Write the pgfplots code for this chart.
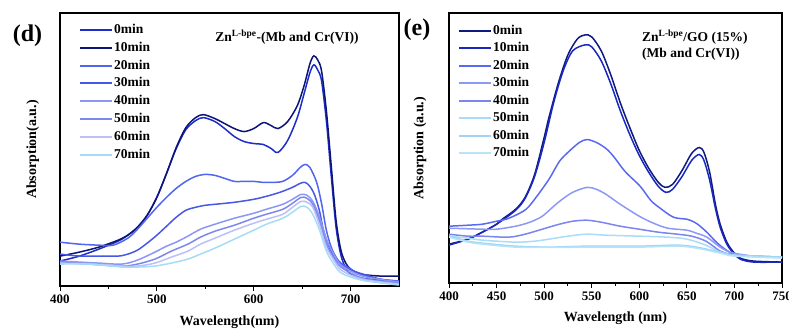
\documentclass[border=0pt]{standalone}
\usepackage{pgfplots}
\pgfplotsset{compat=1.18}
\usepackage{fontspec}
\setmainfont{Liberation Serif}
\definecolor{Lzero}{HTML}{1E2DC8}
\definecolor{Lten}{HTML}{0C1478}
\definecolor{Ltwenty}{HTML}{5165F0}
\definecolor{Lthirty}{HTML}{4558E6}
\definecolor{Lforty}{HTML}{8C96F4}
\definecolor{Lfifty}{HTML}{7D87EE}
\definecolor{Lsixty}{HTML}{BAC0F8}
\definecolor{Lseventy}{HTML}{A6DCF6}
\definecolor{Rzero}{HTML}{0E1A80}
\definecolor{Rten}{HTML}{1A28C0}
\definecolor{Rtwenty}{HTML}{5A6AF0}
\definecolor{Rthirty}{HTML}{8C98F6}
\definecolor{Rforty}{HTML}{7C84F0}
\definecolor{Rfifty}{HTML}{A8DCF8}
\definecolor{Rsixty}{HTML}{A0D4F6}
\definecolor{Rseventy}{HTML}{B8E4F8}
\pgfplotsset{
  common/.style={
    scale only axis,
    axis line style={line width=1.2pt, black},
    every tick/.style={black, line width=0.9pt},
    tick align=outside,
    major tick length=5pt,
    minor tick length=3pt,
    xtick pos=lower,
    ytick=\empty,
    xmin=400, xmax=750,
    /pgf/number format/assume math mode=true,
    xticklabel style={font=\bfseries\fontsize{13}{13}\selectfont, /pgf/number format/1000 sep={}},
    label style={font=\bfseries\fontsize{14}{14}\selectfont},
    legend cell align=left,
    legend image code/.code={\draw[#1, line width=2pt] (0pt,0pt) -- (32pt,0pt);},
    every axis plot/.append style={line width=1.5pt, smooth, tension=0.5, no markers},
  }
}
\begin{document}
\begin{tikzpicture}[x=1pt,y=1pt]
\useasboundingbox (0,0) rectangle (789,331);
% ---------- panel (d) ----------
\begin{axis}[common,
  at={(60pt,45pt)}, anchor=south west,
  width=339pt, height=273pt,
  ymin=-1, ymax=273,
  xtick={400,500,600,700}, minor x tick num=1,
  xlabel={Wavelength(nm)},
  ylabel={Absorption(a.u.)},
  xlabel style={at={(axis description cs:0.5,0)}, anchor=center, yshift=-36pt},
  ylabel style={at={(axis description cs:-0.08,0.5)}, anchor=center},
  legend style={at={(axis description cs:0.056,0.967)}, anchor=north west, draw=none, fill=none, inner sep=0pt,
    font=\bfseries\fontsize{13.5}{13.5}\selectfont, row sep=2.9pt,
    nodes={inner sep=1pt, text height=10pt, text depth=3pt}},
]
\addplot[Lzero] coordinates {(400,24)(420,29)(440,36)(460,44)(470,50)(480,58)(490,70)(500,88)(510,112)(520,137)(530,156)(540,165)(548,168)(560,164)(570,157)(580,149)(590,144)(600,142)(610,141)(618,137)(625,133)(635,145)(645,168)(652,192)(658,213)(662,221)(666,216)(670,205)(675,165)(680,110)(685,58)(690,30)(695,17)(700,11)(710,7)(730,5)(750,4)};
\addlegendentry{0min}
\addplot[Lten] coordinates {(400,29)(420,33)(440,38)(460,45)(470,50)(480,58)(490,70)(500,88)(510,112)(520,138)(530,158)(540,168)(548,171)(560,167)(570,162)(580,157)(590,154)(600,157)(610,163)(618,160)(625,157)(635,164)(645,180)(652,200)(658,222)(662,230)(666,226)(670,215)(675,175)(680,120)(685,65)(690,35)(695,22)(700,16)(710,11)(730,9)(750,9)};
\addlegendentry{10min}
\addplot[Ltwenty] coordinates {(400,43)(420,41)(440,40)(455,40)(470,47)(480,56)(490,67)(500,78)(510,88)(520,97)(530,104)(540,109)(550,111)(560,110)(570,107)(580,104)(590,104)(600,104)(610,103)(620,103)(630,104)(640,110)(648,118)(653,121)(658,118)(665,103)(670,82)(675,55)(680,38)(685,28)(690,22)(700,16)(710,11)(730,6)(750,4)};
\addlegendentry{20min}
\addplot[Lthirty] coordinates {(400,31)(420,29)(440,29)(460,29)(470,31)(480,35)(490,42)(500,50)(510,59)(520,68)(530,75)(540,78)(550,80)(560,81)(580,83)(600,86)(613,89)(627,93)(640,98)(648,102)(653,103)(658,99)(663,90)(668,74)(672,55)(678,38)(685,26)(695,17)(706,13)(730,6)(750,3)};
\addlegendentry{30min}
\addplot[Lforty] coordinates {(400,24)(420,23)(440,22)(464,21)(480,25)(498,33)(510,39)(520,43)(532,49)(545,56)(560,61)(580,67)(600,72)(613,76)(630,81)(640,86)(649,91)(655,90)(661,84)(668,68)(675,46)(682,32)(689,21)(700,14)(716,8)(750,3)};
\addlegendentry{40min}
\addplot[Lfifty] coordinates {(400,23)(430,21)(464,19)(480,21)(498,26)(515,34)(532,41)(545,48)(560,54)(580,60)(600,67)(613,71)(630,76)(640,82)(649,88)(655,87)(661,81)(668,64)(675,41)(682,28)(689,19)(700,12)(716,6)(750,2)};
\addlegendentry{50min}
\addplot[Lsixty] coordinates {(400,22)(430,21)(464,19)(480,19)(498,22)(515,28)(532,34)(545,41)(560,47)(580,55)(600,62)(613,66)(630,71)(640,78)(649,84)(655,83)(661,78)(668,60)(675,38)(682,26)(689,16)(700,10)(716,5)(750,1)};
\addlegendentry{60min}
\addplot[Lseventy] coordinates {(400,21)(430,21)(464,18)(480,18)(498,19)(515,22)(532,26)(545,31)(560,37)(580,46)(600,55)(613,61)(630,67)(640,73)(649,79)(655,78)(661,71)(668,55)(675,34)(682,22)(689,13)(700,8)(716,4)(750,0)};
\addlegendentry{70min}
\end{axis}
\node[font=\bfseries\fontsize{13.5}{13.5}\selectfont] at (287,294) {Zn\textsuperscript{L-bpe}-(Mb and Cr(VI))};
\node[font=\bfseries\fontsize{24}{24}\selectfont] at (27.5,295) {(d)};
% ---------- panel (e) ----------
\begin{axis}[common,
  at={(449pt,48pt)}, anchor=south west,
  width=333pt, height=270pt,
  ymin=-1, ymax=270,
  xtick={400,450,...,750}, minor x tick num=1,
  xlabel={Wavelength (nm)},
  ylabel={Absorption (a.u.)},
  xlabel style={at={(axis description cs:0.5,0)}, anchor=center, yshift=-35pt},
  ylabel style={at={(axis description cs:-0.087,0.5)}, anchor=center},
  legend style={at={(axis description cs:0.027,0.962)}, anchor=north west, draw=none, fill=none, inner sep=0pt,
    font=\bfseries\fontsize{13.5}{13.5}\selectfont, row sep=2.5pt,
    nodes={inner sep=1pt, text height=10pt, text depth=3pt}},
]
\addplot[Rzero] coordinates {(400,38)(420,43)(435,50)(450,58)(456,63)(470,73)(480,85)(490,108)(500,145)(505,165)(515,200)(525,228)(535,244)(543,248)(550,246)(560,232)(570,208)(580,180)(590,155)(600,132)(610,114)(620,100)(627,95)(635,98)(645,112)(655,129)(663,135)(668,130)(674,110)(680,78)(685,58)(692,40)(699,30)(706,24)(720,21)(750,20)};
\addlegendentry{0min}
\addplot[Rten] coordinates {(400,37)(420,43)(435,50)(450,58)(470,72)(480,84)(490,106)(500,140)(510,180)(520,212)(530,232)(543,238)(550,236)(560,222)(570,199)(580,172)(590,148)(600,127)(610,110)(620,96)(628,90)(635,93)(645,106)(655,122)(663,128)(668,122)(674,102)(680,74)(685,55)(692,38)(699,29)(706,23)(720,20)(750,20)};
\addlegendentry{10min}
\addplot[Rtwenty] coordinates {(400,56)(420,57)(435,58)(450,61)(460,63)(470,67)(481,73)(490,83)(505,103)(516,121)(526,131)(537,140)(545,143)(555,140)(565,134)(573,126)(585,111)(601,96)(612,82)(622,74)(636,65)(650,63)(658,60)(664,56)(672,49)(681,40)(690,33)(700,28)(720,26)(750,25)};
\addlegendentry{20min}
\addplot[Rthirty] coordinates {(400,54)(435,53)(450,53)(470,56)(485,60)(498,66)(510,76)(519,83)(530,90)(545,95)(555,93)(565,88)(580,78)(600,66)(615,59)(630,54)(650,52)(660,49)(671,45)(685,35)(695,30)(705,28)(720,26)(750,25)};
\addlegendentry{30min}
\addplot[Rforty] coordinates {(400,48)(420,46)(435,46)(463,45)(480,48)(491,51)(505,55)(516,58)(530,61)(545,62)(560,60)(580,56)(600,53)(620,50)(640,48)(655,46)(670,41)(685,31)(695,28)(710,26)(750,25)};
\addlegendentry{40min}
\addplot[Rfifty] coordinates {(400,46)(420,44)(435,42)(470,40)(490,41)(505,43)(525,46)(545,48)(565,47)(600,46)(630,45)(650,43)(670,37)(685,30)(700,27)(750,25)};
\addlegendentry{50min}
\addplot[Rsixty] coordinates {(400,46)(420,41)(435,39)(470,36)(505,35)(545,36)(600,36)(640,37)(660,35)(685,30)(700,27)(750,25)};
\addlegendentry{60min}
\addplot[Rseventy] coordinates {(400,45)(420,40)(435,38)(470,35)(505,34.7)(545,35)(600,35)(640,36)(660,34)(685,29)(700,26)(750,24)};
\addlegendentry{70min}
\end{axis}
\node[font=\bfseries\fontsize{13.5}{16}\selectfont, anchor=north west, align=left, inner sep=0pt] at (642,301) {Zn\textsuperscript{L-bpe}/GO (15\%)\\(Mb and Cr(VI))};
\node[font=\bfseries\fontsize{24}{24}\selectfont] at (417,301) {(e)};
\end{tikzpicture}
\end{document}
